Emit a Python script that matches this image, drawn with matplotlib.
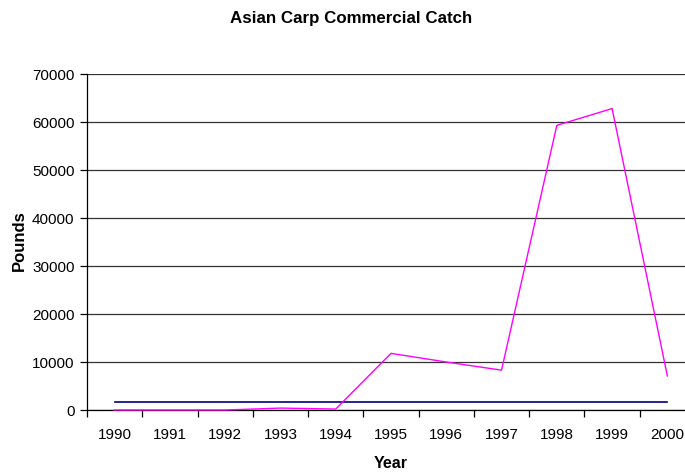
import numpy as np
import matplotlib.pyplot as plt

years = ['1990', '1991', '1992', '1993', '1994', '1995',
         '1996', '1997', '1998', '1999', '2000']
catch_lbs = [0, 0, 0, 400, 200, 11800, 10000, 8300, 59300, 62800, 7100]
baseline_lbs = [1750] * len(years)

plt.rcParams['font.family'] = ['Liberation Sans', 'DejaVu Sans']

fig = plt.figure(figsize=(6.85, 4.74), dpi=100)
# plot area runs a little past the right edge of the figure
ax = fig.add_axes([87 / 685, 64 / 474, 608 / 685, 336 / 474])

x = np.arange(len(years))
ax.plot(x, baseline_lbs, color='#000080', lw=1.2, zorder=3)
ax.plot(x, catch_lbs, color='#ff00ff', lw=1.0, zorder=4, clip_on=False)

ax.set_xlim(-0.5, len(years) - 0.5)
ax.set_ylim(0, 70000)
ax.set_yticks(np.arange(0, 70001, 10000))
ax.yaxis.grid(True, color='#333333', lw=0.9)
ax.set_axisbelow(True)

ax.set_xticks(x)
ax.set_xticklabels(years)
ax.set_xticks(np.arange(-0.5, len(years), 1.0), minor=True)
ax.tick_params(axis='x', which='major', length=0, pad=13, labelsize=11)
ax.tick_params(axis='x', which='minor', length=5, width=0.9, color='black')
ax.tick_params(axis='y', length=5, width=0.9, labelsize=11, pad=4)

for side in ('top', 'right'):
    ax.spines[side].set_visible(False)
ax.spines['left'].set_linewidth(0.9)
ax.spines['bottom'].set_linewidth(0.9)

ax.set_xlabel('Year', fontsize=11.5, fontweight='bold')
ax.xaxis.set_label_coords((391 - 87) / 608, -(463 - 410) / 336)
ax.xaxis.label.set_va('center')
ax.set_ylabel('Pounds', fontsize=12, fontweight='bold')
ax.yaxis.set_label_coords(-(87 - 19) / 608, (410 - 241) / 336)
ax.yaxis.label.set_va('center')

fig.text(351 / 685, 1 - 18 / 474, 'Asian Carp Commercial Catch',
         ha='center', va='center', fontsize=12.2, fontweight='bold')

fig.savefig('out.png', dpi=100)
